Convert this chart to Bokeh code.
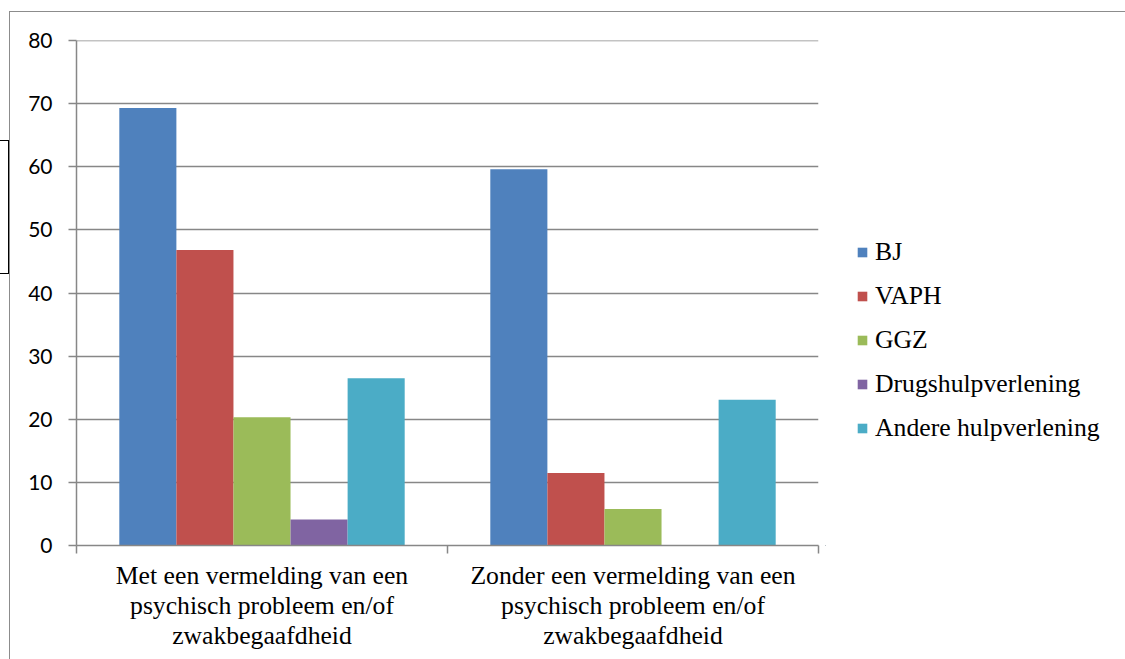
from bokeh.plotting import figure
from bokeh.layouts import row
from bokeh.models import (ColumnDataSource, FixedTicker, Legend, LegendItem,
                          Range1d, InlineStyleSheet)
from bokeh.transform import dodge
from bokeh.embed import file_html
from bokeh.resources import INLINE

# Data
groups = [
    "Met een vermelding van een\npsychisch probleem en/of\nzwakbegaafdheid",
    "Zonder een vermelding van een\npsychisch probleem en/of\nzwakbegaafdheid",
]
series = ["BJ", "VAPH", "GGZ", "Drugshulpverlening", "Andere hulpverlening"]
bj = [69.3, 59.6]
vaph = [46.8, 11.5]
ggz = [20.3, 5.8]
drugs = [4.1, 0.0]
andere = [26.5, 23.1]
y_ticks = [0, 10, 20, 30, 40, 50, 60, 70, 80]

colors = ["#4F81BD", "#C0504D", "#9BBB59", "#8064A2", "#4BACC6"]
grey = "#878787"
serif = "'Liberation Serif', 'Times New Roman', serif"

centers = [i + 0.5 for i in range(len(groups))]
source = ColumnDataSource(data=dict(
    x=centers, BJ=bj, VAPH=vaph, GGZ=ggz,
    Drugshulpverlening=drugs, Andere=andere,
))
columns = ["BJ", "VAPH", "GGZ", "Drugshulpverlening", "Andere"]

# outer chart border and the edge of a neighbouring text box
frame_css = InlineStyleSheet(css="""
:host { position: relative; overflow: hidden; }
:host::before {
  content: ""; position: absolute; z-index: 100; pointer-events: none;
  box-sizing: border-box; left: 9px; top: 11px; width: 1116px; height: 648px;
  border-left: 1px solid #8c8c8c; border-top: 1px solid #8c8c8c;
}
:host::after {
  content: ""; position: absolute; z-index: 100; pointer-events: none;
  box-sizing: border-box; left: 0px; top: 140px; width: 9px; height: 134px;
  border: 1px solid #000; border-left: none;
}
""")

H = 659
p = figure(width=825, height=H, output_backend="svg", toolbar_location=None,
           x_range=Range1d(0, len(groups)), y_range=Range1d(0, 80.01),
           min_border_left=76, min_border_right=7,
           min_border_top=40, min_border_bottom=114)
p.outline_line_color = None
p.background_fill_color = "white"
p.border_fill_color = "white"

# bars: gap width 150% of a bar
bar_w = 1 / 6.5
for i, col in enumerate(columns):
    p.vbar(x=dodge("x", (i - 2) * bar_w, range=p.x_range), top=col,
           width=bar_w, bottom=0, source=source,
           fill_color=colors[i], line_color=None)

# grid
p.xgrid.visible = False
p.ygrid.grid_line_color = grey
p.ygrid.grid_line_width = 1.5

# y axis
ya = p.yaxis[0]
ya.ticker = FixedTicker(ticks=y_ticks)
ya.axis_line_color = grey
ya.axis_line_width = 1.5
ya.major_tick_line_color = grey
ya.major_tick_line_width = 1.5
ya.major_tick_out = 8
ya.major_tick_in = 0
ya.minor_tick_line_color = None
ya.major_label_text_font = "Lato"
ya.major_label_text_font_size = "21px"
ya.major_label_text_color = "black"
ya.major_label_standoff = 16

# x axis: labels at group centers, tick marks at group boundaries
xa = p.xaxis[0]
xa.ticker = FixedTicker(ticks=centers, minor_ticks=list(range(len(groups) + 1)))
xa.major_label_overrides = {c: g for c, g in zip(centers, groups)}
xa.axis_line_color = grey
xa.axis_line_width = 1.5
xa.major_tick_line_color = None
xa.major_tick_out = 0
xa.major_tick_in = 0
xa.minor_tick_line_color = grey
xa.minor_tick_line_width = 1.5
xa.minor_tick_out = 8
xa.minor_tick_in = 0
xa.major_label_text_font = serif
xa.major_label_text_font_size = "25.7px"
xa.major_label_text_color = "black"
xa.major_label_text_line_height = 1.05
xa.major_label_standoff = 7

# legend panel; its key bars sit outside the panel's visible range
q = figure(width=300, height=H, output_backend="svg", toolbar_location=None,
           x_range=Range1d(100, 101), y_range=Range1d(1000, 1001),
           x_axis_type=None, y_axis_type=None,
           min_border_left=0, min_border_right=0,
           min_border_top=0, min_border_bottom=0)
q.outline_line_color = None
q.xgrid.visible = False
q.ygrid.visible = False
q.background_fill_color = "white"
q.border_fill_color = "white"

keys = []
for i, (s, col) in enumerate(zip(series, columns)):
    r = q.vbar(x="x", top=col, width=bar_w, source=source,
               fill_color=colors[i], line_color=None)
    keys.append(LegendItem(label=s, renderers=[r]))

legend = Legend(
    items=keys,
    location=(31, 102),
    orientation="vertical",
    margin=0, padding=0,
    border_line_color=None, background_fill_alpha=0,
    glyph_width=12, glyph_height=12,
    label_height=30, spacing=14, label_standoff=7,
    label_text_font=serif, label_text_font_size="25.7px",
    label_text_color="black",
)
q.add_layout(legend, "center")

layout = row(p, q, spacing=0, stylesheets=[frame_css])

open("out.html", "w").write(file_html(layout, INLINE))
